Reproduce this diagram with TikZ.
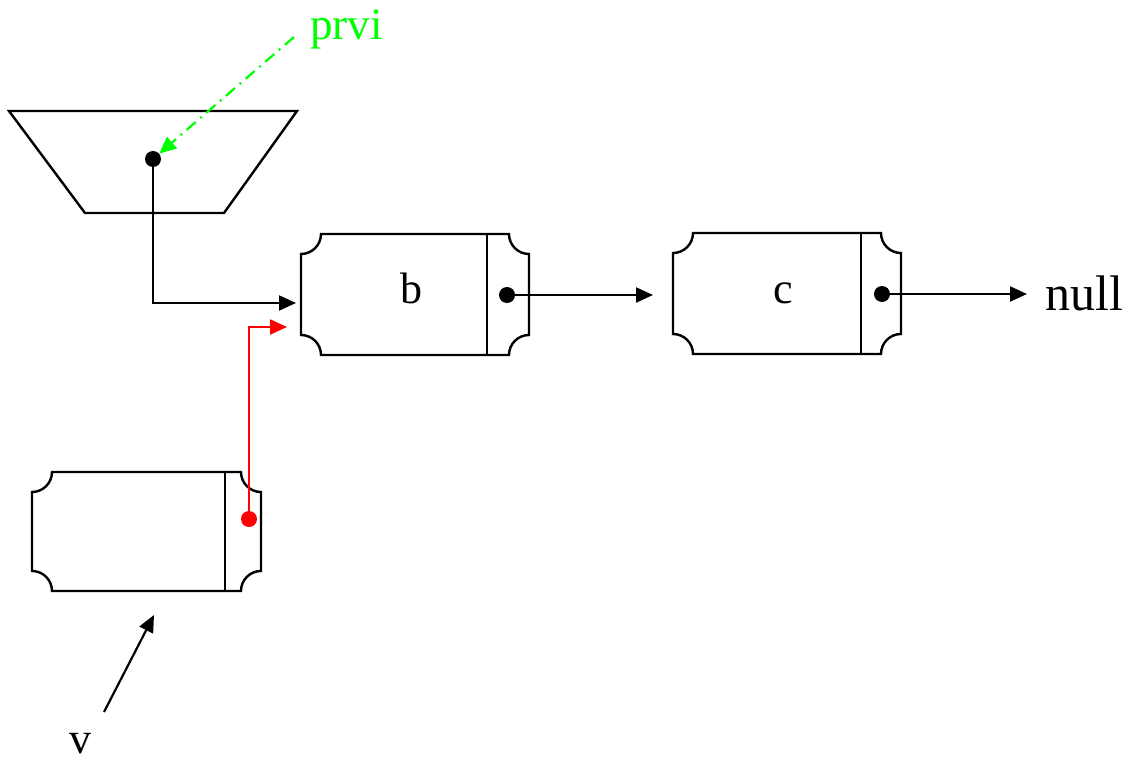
\documentclass[tikz,border=0pt]{standalone}
\usepackage{fontspec}
\setmainfont{Liberation Serif}
\usetikzlibrary{arrows.meta}
\definecolor{prvigreen}{RGB}{0,255,0}
\definecolor{ptrred}{RGB}{255,0,0}
\newcommand\ticketbox[5]{% x1, top, x2, bottom, divider (pixel coords)
  \draw[boxline] (#1+20,-#2) -- (#3-20,-#2)
    arc[start angle=180,end angle=270,radius=20]
    -- (#3,-#4+20)
    arc[start angle=90,end angle=180,radius=20]
    -- (#1+20,-#4)
    arc[start angle=0,end angle=90,radius=20]
    -- (#1,-#2-20)
    arc[start angle=270,end angle=360,radius=20] -- cycle;
  \draw[boxline] (#5,-#2) -- (#5,-#4);
}
\tikzset{
  boxline/.style={line width=2.4pt,black},
  ptr/.style={line width=2.2pt,-{Triangle[length=17pt,width=15pt]}},
  ptrdot/.style={fill,circle,inner sep=0pt,minimum size=16pt},
  lbl/.style={inner sep=0pt,font=\fontsize{44}{50}\selectfont},
}
\begin{document}
\begin{tikzpicture}[x=1pt,y=1pt]
\useasboundingbox (0,0) rectangle (1133,-760);
% trapezoid
\draw[boxline] (9,-111) -- (297,-111) -- (224,-213) -- (85,-213) -- cycle;
% boxes
\ticketbox{301}{234}{529}{355}{487}
\ticketbox{673}{233}{901}{354}{861}
\ticketbox{32}{472}{261}{591}{225}
% labels
\node[lbl,anchor=base] (blbl) at (411,-303) {b};
\node[lbl,anchor=base] (clbl) at (783,-303) {c};
\node[lbl,anchor=base west,font=\fontsize{50}{56}\selectfont] (null) at (1045,-310) {null};
\node[lbl,anchor=base west,text=prvigreen,font=\fontsize{45}{52}\selectfont] (prvi) at (310,-40) {prvi};
\node[lbl,anchor=base] (vlbl) at (80,-753) {v};
% dots
\node[ptrdot] (tdot) at (153,-159) {};
\node[ptrdot] (bdot) at (507,-295) {};
\node[ptrdot] (cdot) at (882,-294) {};
\node[ptrdot,fill=ptrred] (vdot) at (249,-519) {};
% connector endpoints
\coordinate (gstart) at (294,-37);
\coordinate (btip1) at (296,-303);
\coordinate (btip2) at (287,-327);
\coordinate (ctip) at (653,-295);
\coordinate (ntip) at (1027,-294);
\coordinate (vtail) at (104,-712);
\coordinate (vtip) at (154,-615);
% connectors
\draw[ptr] (tdot.center) |- (btip1);
\draw[ptr,ptrred] (vdot.center) |- (btip2);
\draw[ptr] (bdot.center) -- (ctip);
\draw[ptr] (cdot.center) -- (ntip);
\draw[ptr] (vtail) -- (vtip);
\draw[ptr,prvigreen,dash pattern=on 12pt off 6pt on 2pt off 6pt] (gstart) -- (tdot);
\end{tikzpicture}
\end{document}
